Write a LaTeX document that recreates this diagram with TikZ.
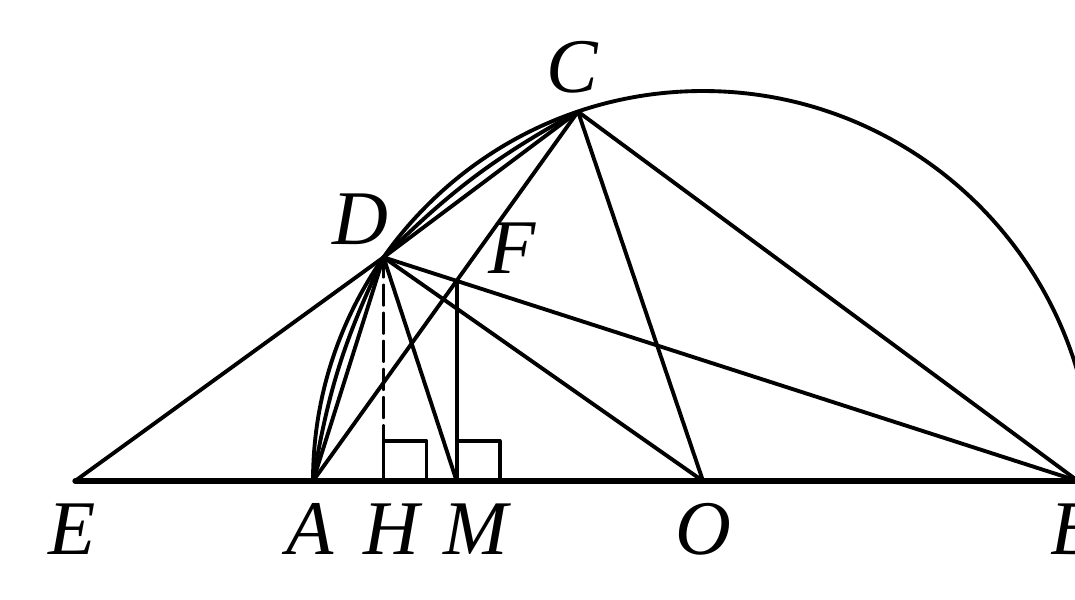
\documentclass[tikz,border=0pt]{standalone}
\usepackage{fontspec}
\setmainfont{Liberation Serif}

\begin{document}
\begin{tikzpicture}[line cap=round,line join=round,
  ln/.style={line width=1.1pt},
  lbl/.style={font=\itshape\fontsize{22}{24}\selectfont,inner sep=0pt}]
\path[use as bounding box] (0,0) rectangle (10.75,5.99);
% points
\coordinate (O) at (7.03,1.18);
\coordinate (A) at (3.13,1.18);
\coordinate (B) at (10.78,1.18);
\coordinate (E) at (0.75,1.18);
\coordinate (C) at ([shift={(108.7:3.9)}]O);
\coordinate (D) at ([shift={(145:3.9)}]O);
\coordinate (H) at (D |- O);
\coordinate (F) at (intersection of A--C and D--B);
\coordinate (M) at (F |- O);
% semicircle and diameter
\draw[ln] (A) arc[start angle=180,end angle=0,radius=3.9];
\draw[line width=1.5pt] (E) -- (B);
% chords and lines
\draw[ln] (E) -- (D) -- (C);
\draw[ln] (A) -- (D);
\draw[ln] (A) to[bend left=8] (D);
\draw[ln] (D) to[bend left=8] (C);
\draw[ln] (A) -- (C);
\draw[ln] (C) -- (O);
\draw[ln] (C) -- (B);
\draw[ln] (D) -- (M);
\draw[ln] (D) -- (O);
\draw[ln] (D) -- (B);
\draw[ln] (F) -- (M);
\draw[ln,dash pattern=on 5.5pt off 2.5pt] (D) -- (H);
% right angles
\draw[ln] (H) rectangle ++(0.43,0.40);
\draw[ln] (M) rectangle ++(0.43,0.40);
% labels
\node[lbl] (labE) at ([shift={(-0.03,-0.48)}]E) {E};
\node[lbl] (labA) at ([shift={(-0.03,-0.48)}]A) {A};
\node[lbl] (labH) at ([shift={(0.08,-0.48)}]H) {H};
\node[lbl] (labM) at ([shift={(0.19,-0.48)}]M) {M};
\node[lbl] (labO) at ([shift={(0.0,-0.48)}]O) {O};
\node[lbl] (labB) at ([shift={(-0.04,-0.48)}]B) {B};
\node[lbl] (labC) at ([shift={(-0.06,0.44)}]C) {C};
\node[lbl] (labD) at ([shift={(-0.23,0.38)}]D) {D};
\node[lbl] (labF) at ([shift={(0.55,0.33)}]F) {F};
\end{tikzpicture}
\end{document}
